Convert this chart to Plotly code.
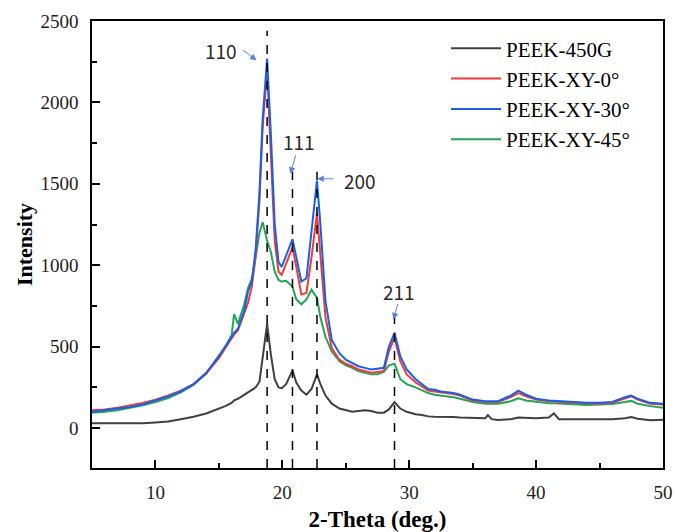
import plotly.graph_objects as go

two_theta = [5, 6, 7, 8, 9, 10, 11, 12, 13, 14, 15, 15.5, 16, 16.2, 16.5, 17, 17.3, 17.6, 17.9,
             18.2, 18.45, 18.8, 19.1, 19.4, 19.7, 19.95, 20.3, 20.8, 21.1, 21.5, 21.9, 22.3,
             22.73, 23.0, 23.4, 23.9, 24.5, 25, 25.5, 26, 26.5, 27, 27.5, 28, 28.4, 28.84, 29.3,
             29.8, 30.5, 31, 31.5, 32, 32.5, 33, 33.5, 34, 35, 36, 36.2, 36.5, 37, 38, 38.6,
             39.2, 40, 41, 41.4, 41.8, 43, 44, 45, 46, 47, 47.5, 48, 49, 50]

peek_450g = [30, 30, 28, 30, 30, 35, 40, 55, 70, 90, 120, 135, 155, 170, 180, 205, 220, 235, 250,
             285, 420, 640, 450, 300, 250, 245, 270, 355, 280, 230, 205, 240,
             330, 270, 200, 150, 120, 110, 100, 105, 110, 105, 95, 95, 115, 160, 120,
             100, 85, 80, 72, 70, 70, 66, 68, 65, 62, 60, 80, 55, 50, 55, 65,
             62, 60, 65, 90, 55, 55, 52, 55, 55, 60, 68, 58, 48, 52]

peek_xy_0 = [110, 115, 125, 140, 155, 175, 200, 230, 270, 335, 430, 490, 550, 575, 600, 700, 770, 870, 1060,
             1400, 1850, 2200, 1700, 1150, 960, 940, 1010, 1110, 990, 820, 830, 1050,
             1320, 1050, 680, 490, 420, 395, 380, 360, 350, 340, 345, 350, 470, 555, 410,
             330, 280, 255, 230, 225, 220, 215, 210, 200, 170, 160, 160, 160, 160, 190, 215,
             195, 175, 165, 165, 160, 155, 150, 150, 155, 180, 195, 175, 150, 145]

peek_xy_30 = [100, 110, 120, 130, 145, 170, 195, 225, 270, 340, 440, 500, 560, 585, 610, 720, 840, 900, 1100,
              1450, 1900, 2270, 1800, 1250, 1020, 990, 1060, 1160, 1050, 900, 920, 1200,
              1520, 1250, 780, 540, 460, 420, 400, 380, 370, 360, 365, 370, 500, 585, 440,
              360, 300, 270, 240, 235, 225, 220, 215, 205, 175, 165, 165, 165, 165, 200, 230,
              205, 180, 170, 168, 165, 160, 155, 155, 160, 190, 200, 180, 155, 150]

peek_xy_45 = [95, 100, 110, 125, 140, 160, 185, 220, 265, 335, 440, 500, 570, 700, 640, 760, 860, 920, 1050,
              1200, 1265, 1150, 1080, 960, 910, 900, 905, 870, 790, 760, 790, 850,
              800, 680, 560, 470, 410, 385, 370, 350, 340, 330, 330, 345, 385, 395, 300,
              270, 250, 235, 215, 205, 200, 195, 190, 180, 160, 150, 150, 150, 150, 165, 183,
              170, 160, 152, 152, 150, 145, 142, 145, 148, 160, 167, 150, 135, 125]

series_names = ["PEEK-450G", "PEEK-XY-0°", "PEEK-XY-30°", "PEEK-XY-45°"]
series_values = [peek_450g, peek_xy_0, peek_xy_30, peek_xy_45]
series_colors = ["#404040", "#f03a3a", "#1a5fe6", "#22a655"]
draw_order = [0, 3, 1, 2]

peak_labels = ["110", "111", "200", "211"]
peak_positions = [18.8, 20.8, 22.73, 28.84]
peak_line_tops = [2440, 1575, 1575, 692]
label_text_pos = [(15.16, 2321), (21.33, 1759), (26.09, 1519), (29.22, 840)]
arrow_tail = [(16.8, 2327), (21.09, 1685), (24.14, 1531), (29.14, 772)]
arrow_head = [(17.97, 2259), (20.63, 1562), (22.75, 1531), (28.75, 667)]

y_min, y_max = -245, 2500
x_min, x_max = 5, 50

fig = go.Figure()

for i in draw_order:
    fig.add_trace(go.Scatter(
        x=two_theta, y=series_values[i], mode="lines", name=series_names[i],
        line=dict(color=series_colors[i], width=2), legendrank=i + 1,
    ))

for px_, top in zip(peak_positions, peak_line_tops):
    fig.add_trace(go.Scatter(
        x=[px_, px_], y=[y_min, top], mode="lines", showlegend=False,
        line=dict(color="black", width=1.5, dash="dash"), hoverinfo="skip",
    ))

annotations = []
for lab, (tx, ty), (ax_, ay_), (hx, hy) in zip(peak_labels, label_text_pos, arrow_tail, arrow_head):
    annotations.append(dict(x=tx, y=ty, xref="x", yref="y", text=lab, showarrow=False,
                            font=dict(family="Noto Sans CJK SC", size=19, color="#2a2a2a")))
    annotations.append(dict(x=hx, y=hy, ax=ax_, ay=ay_, xref="x", yref="y", axref="x", ayref="y",
                            text="", showarrow=True, arrowhead=2, arrowsize=1.3, arrowwidth=1,
                            arrowcolor="#5b82d6"))

serif = "Liberation Serif"
fig.update_layout(
    width=675, height=532,
    margin=dict(l=92, r=12, t=21, b=64, autoexpand=False),
    paper_bgcolor="white", plot_bgcolor="white",
    showlegend=True,
    legend=dict(x=0.62, y=0.984, xanchor="left", yanchor="top",
                font=dict(family=serif, size=21, color="black"),
                bgcolor="rgba(0,0,0,0)", tracegroupgap=0, itemwidth=50),
    annotations=annotations,
    xaxis=dict(range=[x_min, x_max], tickvals=[10, 20, 30, 40, 50],
               ticks="inside", ticklen=8, tickwidth=1.5, tickcolor="black",
               minor=dict(ticks="inside", ticklen=5, tickwidth=1.5, dtick=5, tick0=0, tickcolor="black"),
               showline=True, linecolor="black", linewidth=1.5, mirror=True,
               showgrid=False, zeroline=False, ticklabelstandoff=6,
               ticklabeloverflow="allow", automargin=False,
               tickfont=dict(family=serif, size=19, color="#222222"),
               title=dict(text="<b>2-Theta (deg.)</b>", font=dict(family=serif, size=23, color="black"),
                          standoff=14)),
    yaxis=dict(range=[y_min, y_max], tickvals=[0, 500, 1000, 1500, 2000, 2500],
               ticks="inside", ticklen=8, tickwidth=1.5, tickcolor="black",
               minor=dict(ticks="inside", ticklen=5, tickwidth=1.5, dtick=250, tick0=0, tickcolor="black"),
               showline=True, linecolor="black", linewidth=1.5, mirror=True,
               showgrid=False, zeroline=False, ticklabelstandoff=8,
               ticklabeloverflow="allow", automargin=False,
               tickfont=dict(family=serif, size=19, color="#222222"),
               title=dict(text="<b>Intensity</b>", font=dict(family=serif, size=22, color="black"),
                          standoff=2)),
)

fig.write_html("out.html")
